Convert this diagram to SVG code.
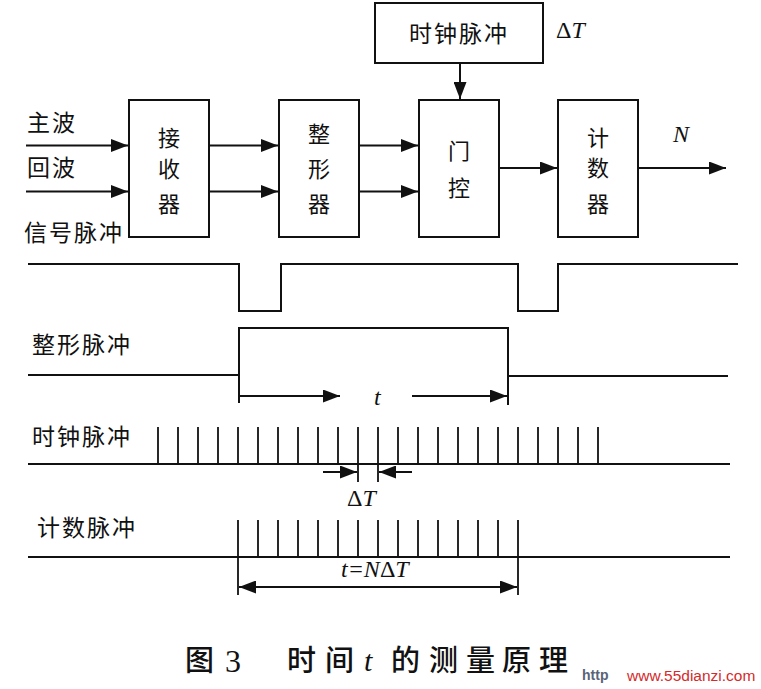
<svg xmlns="http://www.w3.org/2000/svg" width="761" height="689" viewBox="0 0 761 689">
<style>
.box{fill:#fff;stroke:#111;stroke-width:2}
.ln{fill:none;stroke:#111;stroke-width:2}
.tk{fill:none;stroke:#111;stroke-width:1.8}
.cj{font-family:"Noto Sans CJK SC","Noto Sans CJK JP",sans-serif;font-size:22px;fill:#111}
.lb{font-family:"Noto Sans CJK SC","Noto Sans CJK JP",sans-serif;font-size:23px;fill:#111;letter-spacing:2px}
.it{font-family:"Liberation Serif",serif;font-style:italic;font-size:24px;fill:#111}
.up{font-style:normal}
.cap{font-family:"Noto Sans CJK SC","Noto Sans CJK JP",sans-serif;font-size:29px;font-weight:500;fill:#111}
</style>
<defs>
<marker id="ah" markerUnits="userSpaceOnUse" markerWidth="17" markerHeight="13" refX="17" refY="6.5" orient="auto-start-reverse">
<path d="M0,0 L17,6.5 L0,13 z" fill="#111"/>
</marker>
</defs>
<rect width="761" height="689" fill="#fff"/>

<g id="clock">
<rect class="box" x="375" y="3" width="168" height="60"/>
<text class="lb" x="459" y="42" text-anchor="middle">时钟脉冲</text>
<text class="it" x="556" y="38"><tspan class="up">Δ</tspan>T</text>
</g>

<g id="receiver">
<rect class="box" x="129" y="100" width="80" height="137"/>
<text class="cj" x="169" y="146" text-anchor="middle">接</text>
<text class="cj" x="169" y="177" text-anchor="middle">收</text>
<text class="cj" x="169" y="212" text-anchor="middle">器</text>
</g>

<g id="shaper">
<rect class="box" x="279" y="100" width="80" height="137"/>
<text class="cj" x="319" y="142" text-anchor="middle">整</text>
<text class="cj" x="319" y="177" text-anchor="middle">形</text>
<text class="cj" x="319" y="212" text-anchor="middle">器</text>
</g>

<g id="gate">
<rect class="box" x="419" y="100" width="80" height="137"/>
<text class="cj" x="459" y="159" text-anchor="middle">门</text>
<text class="cj" x="459" y="196" text-anchor="middle">控</text>
</g>

<g id="counter">
<rect class="box" x="558" y="100" width="80" height="137"/>
<text class="cj" x="598" y="146" text-anchor="middle">计</text>
<text class="cj" x="598" y="176" text-anchor="middle">数</text>
<text class="cj" x="598" y="212" text-anchor="middle">器</text>
</g>

<g id="inputs">
<text class="lb" x="27" y="131">主波</text>
<text class="lb" x="27" y="176">回波</text>
<text class="lb" x="24" y="241">信号脉冲</text>
<text class="it" x="673" y="142">N</text>
</g>

<g id="connectors">
<line class="ln" x1="26" y1="145.5" x2="128" y2="145.5" marker-end="url(#ah)"/>
<line class="ln" x1="26" y1="191.5" x2="128" y2="191.5" marker-end="url(#ah)"/>
<line class="ln" x1="209" y1="145.5" x2="278" y2="145.5" marker-end="url(#ah)"/>
<line class="ln" x1="209" y1="191.5" x2="278" y2="191.5" marker-end="url(#ah)"/>
<line class="ln" x1="359" y1="145.5" x2="418" y2="145.5" marker-end="url(#ah)"/>
<line class="ln" x1="359" y1="191.5" x2="418" y2="191.5" marker-end="url(#ah)"/>
<line class="ln" x1="499" y1="168" x2="557" y2="168" marker-end="url(#ah)"/>
<line class="ln" x1="638" y1="168" x2="726" y2="168" marker-end="url(#ah)"/>
<line class="ln" x1="460" y1="63" x2="460" y2="99" marker-end="url(#ah)"/>
</g>

<g id="signal-pulse">
<path class="ln" d="M28,264 H239 V311 H281 V264 H518 V311 H558 V264 H738"/>
</g>

<g id="shaped-pulse">
<text class="lb" x="32" y="353">整形脉冲</text>
<path class="ln" d="M28,375 H239 V328 H508 V376 H728"/>
<line class="ln" x1="239" y1="374" x2="239" y2="403"/>
<line class="ln" x1="508" y1="375" x2="508" y2="405"/>
<line class="ln" x1="240" y1="396" x2="340" y2="396" marker-end="url(#ah)"/>
<line class="ln" x1="412" y1="396" x2="507" y2="396" marker-end="url(#ah)"/>
<text class="it" x="374" y="405">t</text>
</g>

<g id="clock-pulse">
<text class="lb" x="32" y="445">时钟脉冲</text>
<line class="ln" x1="28" y1="464" x2="730" y2="464"/>
<path class="tk" d="M158,427V464M178,427V464M198,427V464M218,427V464M238,427V464M258,427V464M278,427V464M298,427V464M318,427V464M338,427V464M358,427V482M378,427V482M398,427V464M418,427V464M438,427V464M458,427V464M478,427V464M498,427V464M518,427V464M538,427V464M558,427V464M578,427V464M598,427V464"/>
<line class="ln" x1="323" y1="472" x2="357" y2="472" marker-end="url(#ah)"/>
<line class="ln" x1="412" y1="472" x2="379" y2="472" marker-end="url(#ah)"/>
<text class="it" x="347" y="506"><tspan class="up">Δ</tspan>T</text>
</g>

<g id="count-pulse">
<text class="lb" x="37" y="536">计数脉冲</text>
<line class="ln" x1="28" y1="557" x2="730" y2="557"/>
<path class="tk" d="M238,520V595M258,520V557M278,520V557M298,520V557M318,520V557M338,520V557M358,520V557M378,520V557M398,520V557M418,520V557M438,520V557M458,520V557M478,520V557M498,520V557M518,520V595"/>
<line class="ln" x1="239" y1="587" x2="517" y2="587" marker-start="url(#ah)" marker-end="url(#ah)"/>
<text class="it" x="341" y="577">t=N<tspan class="up">Δ</tspan>T</text>
</g>

<g id="caption">
<text class="cap" x="185" y="671">图</text>
<text x="225" y="672" style="font-family:'Liberation Serif',serif;font-size:32px;fill:#111">3</text>
<text class="cap" x="287" y="671">时</text>
<text class="cap" x="325" y="671">间</text>
<text class="it" x="364" y="671" style="font-size:30px">t</text>
<text class="cap" x="391" y="671">的</text>
<text class="cap" x="429" y="671">测</text>
<text class="cap" x="466" y="671">量</text>
<text class="cap" x="502" y="671">原</text>
<text class="cap" x="539" y="671">理</text>
<text x="582" y="680" style="font-family:'Liberation Sans',sans-serif;font-size:14px;font-weight:bold;fill:#5a6378">http</text>
<text x="627" y="681" style="font-family:'Liberation Sans',sans-serif;font-size:15.5px;fill:#d42a2a">www.55dianzi.com</text>
</g>
</svg>
